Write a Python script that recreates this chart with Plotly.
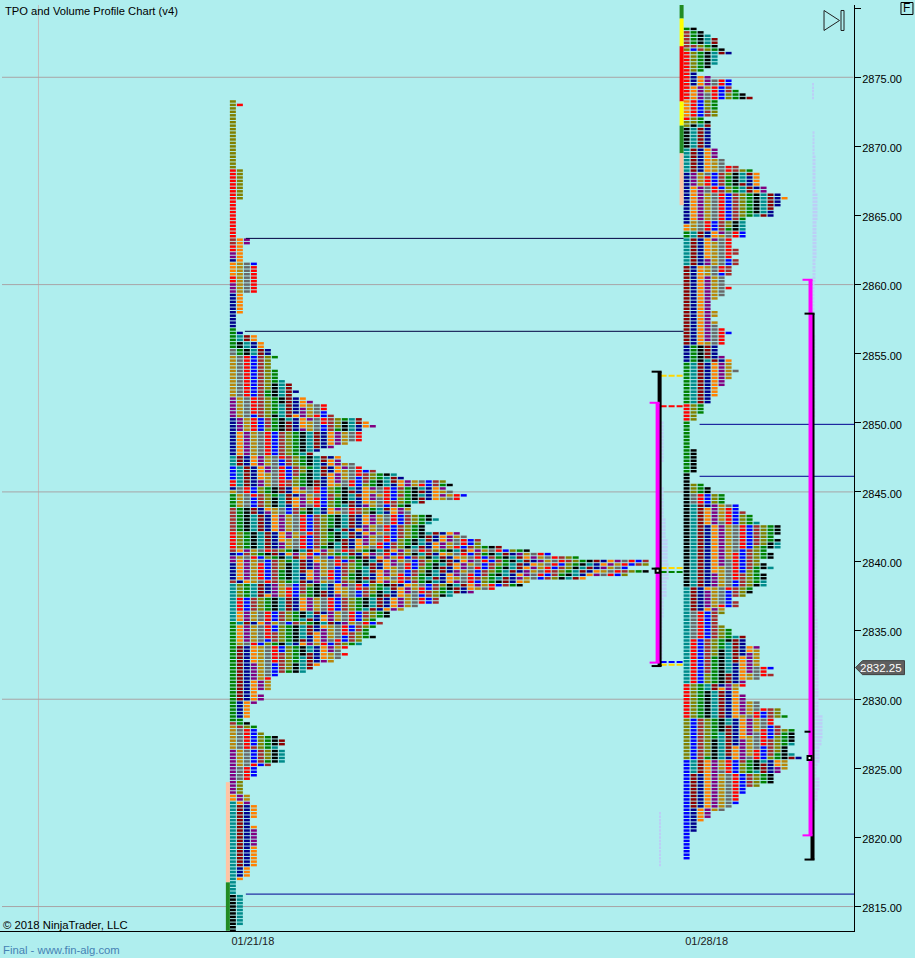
import re
import plotly.graph_objects as go

# ---------------- data ----------------
TICK_PRICES = [2815, 2820, 2825, 2830, 2835, 2840, 2845, 2850, 2855, 2860, 2865, 2870, 2875, 2880]
TICK_LABELS = ["2815.00", "2820.00", "2825.00", "2830.00", "2835.00", "2840.00", "2845.00", "2850.00",
               "2855.00", "2860.00", "2865.00", "2870.00", "2875.00", ""]
GRID_PRICES = [2815, 2830, 2845, 2860, 2875]
DATE_LABELS = ["01/21/18", "01/28/18"]

S1_TOP = 2873.25
S2_TOP = 2878.50
TICK = 0.25

# number of TPO cells on each 0.25 price row, top to bottom
S1_LEN = ([1, 2] + [1]*18 + [2]*9 + [1]*11 + [3, 3] + [2]*5 + [4]*9 + [2]*6 + [1]*4 +
          [1,2,4,4,5,5,6,6,7,6,6,6,7,7,7,8,9,9,10,9,11,12,14,14,14,15,19,20,21,19,19,19,19,17,15,13,12,
           16,16,18,19,21,24,25,31,32,31,32,34] +
          [33,28,26,26,26,29,30,29,28,28,33,34,36,36,39,43,46,50,60,60,57,60,57,51,43,42,38,35,32,30] +
          [30,27,25,23,23,21,22,21,20,20,21,19,19,17,16,17,16,15,13,12,11,7,6,6,6,6,4,5,5,4,3,3,3,3,2,3,
           4,4,5,7,8,8,7,8,8,8,8,6,4,4,4,3,2,2,2,2,3,3,3,4,4,4,4,3,3] +
          [4]*12 + [3,3,3,2] + [1]*4 + [2]*9 + [1,1])

S2_LEN = ([2,3,4,5,5,5,6,7,5,5,5,4,3,2,4,7,7,7,8,9,10,5,5,5,5,5,3,4,4,4,4,4,4,4,4,5,5,5,6,6,8,10,
           11,11,11,11,12,12,14,15,14,14,13,13,13,9,9,9,9,9,9,7,7,7,8,8,7,8,8,7,7,7,6,6,6,7,6,6,5,
           4,4,4,5,5,4,5,5,6,7,6,6,6,5,5,5,6,7,7,7,8,7,7,6,6,5,5,5,4,4,3,3,3,2,2] +
          [1]*8 + [2]*7 + [1]*3 +
          [3,4,4,6,6,6,8,8,9,10,10,11,14,14,14,13,14,14,14,12,13,13,11,12,13,11,12,12,12,12,10,10,9,7,
           8,8,6,6,5,5,5,6,7,7,9,9,9,11,11,11,11,11,11,13,12,13,11,9,9,8,8,9,9,11,11,14,14,15,13,13,14,
           16,16,16,16,16,15,15,16,17,15,15,15,14,13,13,13,11,9,9,8,8,8,7,6,4,4,3,2,2,2] + [1]*8)

# colour letters of the first and second cell of each row (letter + run length)
S1_COL0 = "L20 R20 W2 R2 P2 V1 O4 R2 P3 V10 N6 G2 D12 P6 V11 T3 B4 R2 V1 D1 N4 W7 R5 W1 V1 P2 V5 W1 T11 N29 W1 D7 P13 O2 T27 K11"
S1_COL1 = "R20 L20 O7 D9 O10 V2 T2 K2 N2 G12 D6 P4 O7 M3 T4 T2 G2 D4 N7 L5 O1 B1 D1 O6 V1 L4 R4 O3 T1 O5 D1 M16 V5 N2 W1 G6 D5 G4 L4 P2 O1 M18 V3 O1 T15"
S2_COL0 = "N1 W5 L1 R14 O5 R1 L2 K6 T7 V15 O2 N2 T8 M23 V5 N12 R5 N15 K33 T28 R10 L12 B29"
S2_COL1 = "K1 N4 W1 B1 L6 V4 O4 R5 L2 K1 T6 M7 P4 O10 D3 T2 M8 V23 N5 T12 L5 K15 N3 L3 G3 T24 M7 G8 R13 L10 B12 T4 M10 V15"

# the period colours, in the order they follow each other
PERIOD_LETTERS = "OPDGRBWLNKTMV"
PERIOD_COLOURS = {"O": "#FF8000", "P": "#800080", "D": "#B8860B", "G": "#696969", "R": "#FF0000",
                  "B": "#0000FF", "W": "#A52A2A", "L": "#808000", "N": "#008000", "K": "#000000",
                  "T": "#008B8B", "M": "#8B0000", "V": "#00008B"}

# solid strip left of each profile: (top price, bottom price, colour)
S1_STRIP = [(2824.0, 2816.75, "#FFC4A4"), (2816.75, 2813.25, "#228B22")]
S2_STRIP = [(2880.25, 2879.25, "#228B22"), (2879.25, 2877.25, "#FFFF00"), (2877.25, 2873.25, "#FF0000"),
            (2873.25, 2871.5, "#FFFF00"), (2871.5, 2869.5, "#228B22"), (2869.5, 2865.75, "#FFC4A4")]

# volume profile widths in screen pixels: (row count, width), rows counted from 2878.50 down
VOL1_START = 114
VOL1 = [(12, 4), (7, 2), (9, 4), (6, 6), (7, 8), (5, 9), (5, 7), (6, 4), (12, 3), (44, 0), (16, 1)]
VOL2_START = 16
VOL2 = [(5, 1), (9, 0), (7, 2), (11, 3), (8, 5), (11, 4), (7, 3), (15, 2), (24, 3), (22, 2), (16, 3), (20, 4),
        (15, 5), (13, 6), (7, 10), (2, 9), (5, 7), (1, 5), (3, 4), (4, 7), (3, 5), (3, 3)]

LEVEL_LINES = [(2863.344, 246, 684, "#000040"), (2856.62, 245, 684, "#000040"), (2849.89, 700, 855, "#000090"),
               (2846.13, 700, 855, "#000090"), (2815.90, 246, 855, "#000090")]
DASH_LINES = [(2853.4, "#FFD700"), (2851.2, "#FF0000"), (2839.5, "#FFD700"), (2839.2, "#008000"),
              (2832.7, "#0000FF"), (2832.5, "#FFD700")]

BLACK_BARS = [(660, 2853.7, 2832.4), (813, 2857.9, 2818.4)]
MAGENTA_BARS = [(658, 2851.45, 2832.65), (811, 2860.35, 2820.15)]
BLACK_CAPS = [(652, 662, 2853.7), (652, 662, 2832.4), (652, 660, 2839.45), (805, 815, 2857.9),
              (805, 815, 2818.4), (805, 811, 2827.65)]
MAGENTA_CAPS = [(650, 660, 2851.45), (650, 660, 2832.65), (803, 813, 2860.35), (803, 813, 2820.15)]
POC_BOXES = [(658, 2839.3), (810, 2825.75)]
LAST_PRICE = "2832.25"

# ---------------- layout constants ----------------
W, H = 915, 958
PL, PR, PT, PB = 0, 854.5, 5, 931.5
X0, PX = 230, 7.0   # col 0 sits at pixel 230, one unit is one 7-pixel column
S2_OFFSET = (684 - X0) / PX
BG = "#AFEEEE"


def xu(px):
    return (px - X0) / PX


def pxp(px):
    return px / PR


def pyp(py):
    return (PB - py) / (PB - PT)


def expand(rle):
    out = []
    for letter, n in re.findall(r"([A-Z])(\d+)", rle):
        out += [letter] * int(n)
    return out


cells = {k: ([], [], []) for k in PERIOD_LETTERS}


def add_profile(lengths, top, col0, col1, offset):
    c0, c1 = expand(col0), expand(col1)
    for r, n in enumerate(lengths):
        price = top - TICK * r
        for j in range(n):
            if j == 0:
                k = c0[r]
            elif j == 1:
                k = c1[r]
            else:
                # later cells follow the period order, the exact skips are not readable
                start = PERIOD_LETTERS.index(c1[r])
                k = PERIOD_LETTERS[(start + (j - 1) + (j * (r % 24)) // 56) % 13]
            cells[k][0].append(price)
            cells[k][1].append(offset + j)


add_profile(S1_LEN, S1_TOP, S1_COL0, S1_COL1, 0)
add_profile(S2_LEN, S2_TOP, S2_COL0, S2_COL1, S2_OFFSET)

fig = go.Figure()

# volume profiles first, behind everything
for start, rle, base_px in ((VOL1_START, VOL1, 660), (VOL2_START, VOL2, 813)):
    ys, ws = [], []
    r = start
    for n, w in rle:
        for _ in range(n):
            if w:
                ys.append(S2_TOP - TICK * r)
                ws.append(w / PX)
            r += 1
    fig.add_trace(go.Bar(orientation="h", y=ys, x=ws, base=[xu(base_px)] * len(ys), width=0.18,
                         marker=dict(color="#BCCEF6", line_width=0), hoverinfo="skip", showlegend=False))

# TPO cells
for k, (ys, xs, _) in cells.items():
    fig.add_trace(go.Bar(orientation="h", y=ys, x=[6 / PX] * len(ys), base=xs, width=0.18,
                         marker=dict(color=PERIOD_COLOURS[k], line_width=0), hoverinfo="skip", showlegend=False))

# strips
for strip, px0 in ((S1_STRIP, 226), (S2_STRIP, 680)):
    for hi, lo, col in strip:
        fig.add_trace(go.Bar(orientation="v", x=[xu(px0 + 2)], y=[hi - lo], base=[lo], width=4 / PX,
                             marker=dict(color=col, line_width=0), hoverinfo="skip", showlegend=False))


def seg(x, y, col, w, dash=None):
    fig.add_trace(go.Scatter(x=x, y=y, mode="lines", line=dict(color=col, width=w, dash=dash),
                             hoverinfo="skip", showlegend=False))


for p, a, b, col in LEVEL_LINES:
    seg([xu(a), xu(b)], [p, p], col, 1)
for p, col in DASH_LINES:
    seg([xu(661), xu(684)], [p, p], col, 2, "6px,2px")
for x, a, b in BLACK_BARS:
    seg([xu(x), xu(x)], [a, b], "#000000", 4)
for x, a, b in MAGENTA_BARS:
    seg([xu(x), xu(x)], [a, b], "#FF00FF", 4)
for a, b, p in BLACK_CAPS:
    seg([xu(a), xu(b)], [p, p], "#000000", 2)
for a, b, p in MAGENTA_CAPS:
    seg([xu(a), xu(b)], [p, p], "#FF00FF", 2)
fig.add_trace(go.Scatter(x=[xu(a) for a, _ in POC_BOXES], y=[b for _, b in POC_BOXES], mode="markers",
                         marker=dict(symbol="square", size=4, color="#FFFFFF", line=dict(color="#000000", width=2)),
                         hoverinfo="skip", showlegend=False))

shapes = []
for p in GRID_PRICES:
    shapes.append(dict(type="line", xref="x", yref="y", x0=xu(2), x1=xu(854), y0=p, y1=p, layer="below",
                       line=dict(color="#A8A4A6", width=1)))
shapes.append(dict(type="line", xref="x", yref="paper", x0=xu(38.5), x1=xu(38.5), y0=0, y1=1, layer="below",
                   line=dict(color="#C4BCBC", width=1)))
# last-price flag
ly = 668
shapes.append(dict(type="path", xref="paper", yref="paper", layer="above",
                   path=f"M {pxp(856)} {pyp(ly)} L {pxp(863)} {pyp(ly-7)} L {pxp(905)} {pyp(ly-7)} "
                        f"L {pxp(905)} {pyp(ly+7)} L {pxp(863)} {pyp(ly+7)} Z",
                   fillcolor="#5F5F5F", line=dict(color="#404040", width=1)))
# skip-to-end icon
shapes.append(dict(type="path", xref="paper", yref="paper",
                   path=f"M {pxp(824.5)} {pyp(10.5)} L {pxp(840)} {pyp(20.5)} L {pxp(824.5)} {pyp(30.5)} Z",
                   fillcolor="rgba(0,0,0,0)", line=dict(color="#202020", width=1)))
shapes.append(dict(type="rect", xref="paper", yref="paper", x0=pxp(841.5), x1=pxp(844.5), y0=pyp(10.5), y1=pyp(30.5),
                   fillcolor="rgba(0,0,0,0)", line=dict(color="#202020", width=1)))
# F button
shapes.append(dict(type="rect", xref="paper", yref="paper", x0=pxp(901.5), x1=pxp(913.5), y0=pyp(2.5), y1=pyp(14.5),
                   fillcolor="rgba(0,0,0,0)", line=dict(color="#000000", width=1)))

FONT = "Liberation Sans, Arial, sans-serif"


def note(px, py, text, col="#000000", size=12, anchor="left"):
    return dict(xref="paper", yref="paper", x=pxp(px), y=pyp(py), text=text, showarrow=False, xanchor=anchor,
                yanchor="middle", xshift=0, font=dict(family=FONT, size=size, color=col))


annotations = [
    note(3, 11, "TPO and Volume Profile Chart (v4)", size=11.2),
    note(1, 925, "© 2018 NinjaTrader, LLC", size=11.3),
    note(1, 951, "Final - www.fin-alg.com", col="#4682B4", size=11.3),
    note(907.5, 8.5, "F", size=12, anchor="center"),
    note(882, ly, LAST_PRICE, col="#FFFFFF", size=11.5, anchor="center"),
]

fig.update_layout(
    width=W, height=H, autosize=False,
    margin=dict(l=PL, r=W - PR, t=PT, b=H - PB, pad=0),
    paper_bgcolor=BG, plot_bgcolor=BG,
    barmode="overlay", showlegend=False, hovermode=False,
    shapes=shapes, annotations=annotations,
    font=dict(family=FONT, size=11, color="#000000"),
    xaxis=dict(range=[xu(0), xu(PR)], showgrid=False, zeroline=False, showline=True, linecolor="#000000",
               linewidth=1, ticks="", tickmode="array", tickvals=[xu(253), xu(707)], ticktext=DATE_LABELS,
               tickfont=dict(family=FONT, size=11, color="#202020")),
    yaxis=dict(range=[2813.23, 2880.23], side="right", showgrid=False, zeroline=False, showline=True,
               linecolor="#000000", linewidth=1, ticks="outside", ticklen=6, tickcolor="#000000",
               tickmode="array", tickvals=TICK_PRICES, ticktext=TICK_LABELS, ticklabelstandoff=-1,
               ticklabelshift=2,
               tickfont=dict(family=FONT, size=11, color="#000000")),
)

fig.write_html("out.html", post_script="document.body.style.margin='0';document.body.style.overflow='hidden';",
               config={"displayModeBar": False})
